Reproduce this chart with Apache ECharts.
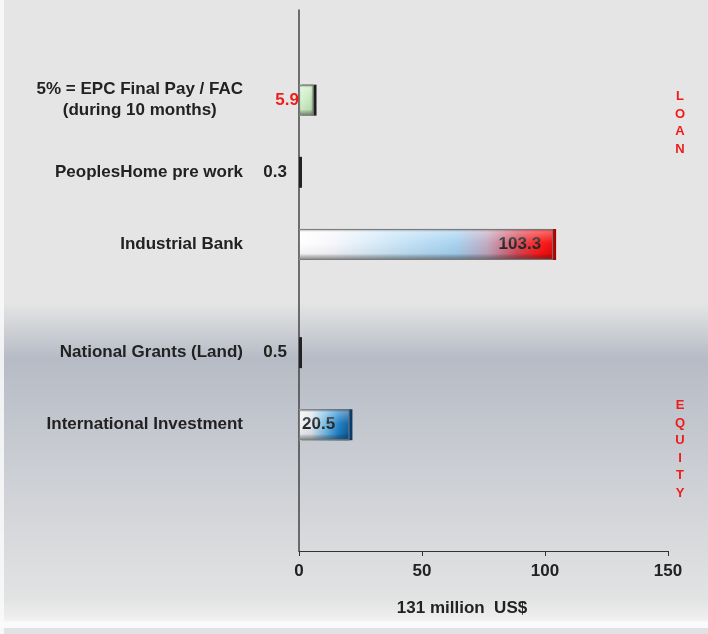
<!DOCTYPE html>
<html>
<head>
<meta charset="utf-8">
<script src="https://cdn.jsdelivr.net/npm/echarts@6/dist/echarts.min.js"></script>
<style>
html,body{margin:0;padding:0;background:#e5e5e5;}
#chart{width:708px;height:634px;}
</style>
</head>
<body>
<div id="chart"></div>
<script>
// Category slots, top to bottom (empty strings are spacer slots)
var categories = ['', '', '5% = EPC Final Pay / FAC\n(during 10 months)', '', 'PeoplesHome pre work', '', 'Industrial Bank', '', '', 'National Grants (Land)', '', 'International Investment', '', '', ''];
var values = [null, null, 5.9, null, 0.3, null, 103.3, null, null, 0.5, null, 20.5, null, null, null];
var xTicks = [0, 50, 100, 150];
var axisTitle = '131 million  US$';
var loanText = 'LOAN';
var equityText = 'EQUITY';

var FONT = "'Liberation Sans', Arial, sans-serif";
var FS = 17;

function hgrad(stops) {
  return new echarts.graphic.LinearGradient(0, 0, 1, 0, stops.map(function (s) { return { offset: s[0], color: s[1] }; }));
}

// visual styles per slot index
var styles = {
  2: {
    color: hgrad([[0, '#a8c8a0'], [0.15, '#d4f2cc'], [0.75, '#c4e8bc'], [1, '#9cc094']]),
    edge: '#1e1e1e',
    label: { position: 'left', distance: 0, color: '#ee1c1c' }
  },
  4: { color: '#222', min: 3, label: { position: 'left', distance: 12, color: '#222' } },
  6: {
    color: hgrad([[0, '#ffffff'], [0.12, '#f8f8fc'], [0.4, '#c4e2f6'], [0.62, '#a4d0f0'], [0.74, '#c0a8c0'], [0.86, '#d84858'], [0.95, '#ff1414'], [1, '#e80808']]),
    edge: '#b00000',
    label: { position: 'insideRight', distance: 12, color: '#222' }
  },
  9: { color: '#222', min: 3, label: { position: 'left', distance: 12, color: '#222' } },
  11: {
    color: hgrad([[0, '#f4f4f4'], [0.25, '#dce4ec'], [0.55, '#68b4e4'], [0.8, '#1a7cc4'], [1, '#0c5a98']]),
    edge: '#083c70',
    label: { position: 'insideLeft', distance: 3, color: '#222' }
  }
};

var mainData = values.map(function (v, i) {
  if (v === null) return '-';
  var s = styles[i];
  var it = { color: s.color, borderWidth: 0 };
  if (s.edge) { it.shadowColor = s.edge; it.shadowOffsetX = 3; it.shadowBlur = 0; }
  return {
    value: v,
    itemStyle: it,
    label: {
      show: true, position: s.label.position, distance: s.label.distance,
      color: s.label.color, fontWeight: 'bold', fontSize: FS, fontFamily: FONT
    }
  };
});
var overlayData = values.map(function (v, i) {
  if (v === null || (styles[i] && styles[i].min)) return '-';
  return v;
});

var chart = echarts.init(document.getElementById('chart'));
chart.setOption({
  animation: false,
  graphic: [
    { type: 'rect', z: -100, silent: true, shape: { x: 0, y: 0, width: 708, height: 634 },
      style: { fill: new echarts.graphic.LinearGradient(0, 0, 0, 1, [
        { offset: 0, color: '#e5e5e5' },
        { offset: 0.478, color: '#e5e5e5' },
        { offset: 0.565, color: '#b6bbc5' },
        { offset: 0.72, color: '#c9ccd2' },
        { offset: 0.946, color: '#e2e3e3' },
        { offset: 0.978, color: '#f0f0f0' },
        { offset: 0.981, color: '#fafafa' },
        { offset: 0.99, color: '#fafafa' },
        { offset: 0.991, color: '#e2e2e6' },
        { offset: 1, color: '#e2e2e6' }
      ]) } },
    { type: 'rect', z: -99, silent: true, shape: { x: 0, y: 0, width: 4, height: 634 }, style: { fill: 'rgba(250,250,250,0.85)' } },
    { type: 'text', z: 10, x: 462, y: 608, style: { text: axisTitle, font: 'bold ' + FS + 'px ' + FONT, fill: '#222', align: 'center', verticalAlign: 'middle' } },
    { type: 'text', z: 10, x: 680, y: 88, style: { text: loanText.split('').join('\n'), font: 'bold 13px ' + FONT, fill: '#ee1c1c', align: 'center', verticalAlign: 'top', lineHeight: 17.5 } },
    { type: 'text', z: 10, x: 680, y: 397, style: { text: equityText.split('').join('\n'), font: 'bold 13px ' + FONT, fill: '#ee1c1c', align: 'center', verticalAlign: 'top', lineHeight: 17.5 } }
  ],
  grid: { left: 299, right: 40, top: 10, bottom: 83, containLabel: false },
  xAxis: {
    type: 'value', min: xTicks[0], max: xTicks[xTicks.length - 1], interval: 50,
    axisLine: { show: true, lineStyle: { color: '#333', width: 1.2 } },
    axisTick: { show: true, length: 5, lineStyle: { color: '#333' } },
    splitLine: { show: false },
    axisLabel: { margin: 12, color: '#222', fontWeight: 'bold', fontSize: FS, fontFamily: FONT }
  },
  yAxis: {
    type: 'category', data: categories, inverse: true,
    axisLine: { show: true, lineStyle: { color: '#444', width: 1.5 } },
    axisTick: { show: false },
    axisLabel: {
      interval: 0, margin: 56, color: '#222', fontWeight: 'bold', fontSize: FS, fontFamily: FONT,
      formatter: function (v) {
        if (v.indexOf('\n') >= 0) {
          return v.split('\n').map(function (l) { return '{c|' + l + '}'; }).join('\n');
        }
        return v;
      },
      rich: { c: { align: 'center', color: '#222', fontWeight: 'bold', fontSize: FS, fontFamily: FONT, lineHeight: 21 } }
    }
  },
  series: [
    { type: 'bar', data: mainData, barWidth: 31, barMinHeight: 3, z: 2 },
    { type: 'bar', data: overlayData, barWidth: 31, barGap: '-100%', silent: true, z: 3,
      itemStyle: { borderColor: '#777', borderWidth: 1, color: new echarts.graphic.LinearGradient(0, 0, 0, 1, [
        { offset: 0, color: 'rgba(80,80,80,0.6)' },
        { offset: 0.1, color: 'rgba(255,255,255,0.35)' },
        { offset: 0.45, color: 'rgba(255,255,255,0.05)' },
        { offset: 0.8, color: 'rgba(0,0,0,0.05)' },
        { offset: 1, color: 'rgba(60,60,60,0.6)' }
      ]) },
      label: { show: false } }
  ]
});
</script>
</body>
</html>
